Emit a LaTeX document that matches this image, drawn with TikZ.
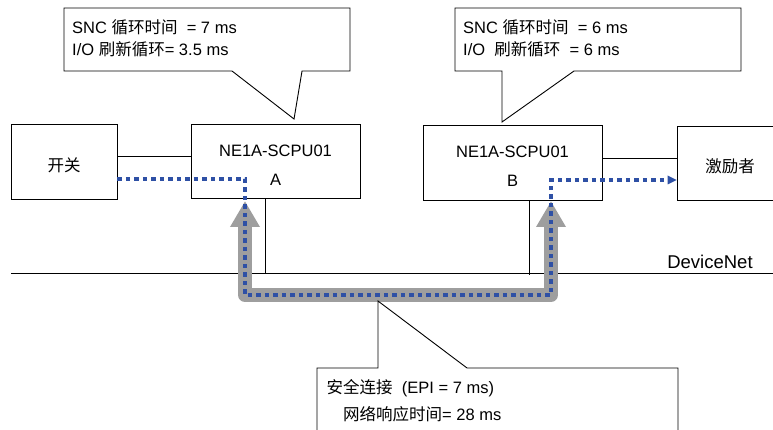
\documentclass[tikz,border=0pt]{standalone}
\usepackage{fontspec}
\setmainfont{Liberation Sans}
\newfontfamily\cjk{Noto Sans CJK SC}
\usetikzlibrary{arrows.meta}
\definecolor{dotblue}{RGB}{46,80,165}
\definecolor{pathgray}{RGB}{158,158,158}
\begin{document}
\begin{tikzpicture}[x=1pt,y=-1pt,
  box/.style={draw, line width=0.9pt, inner sep=0pt, fill=white},
  txt/.style={inner sep=0pt, font=\fontsize{16.5}{20}\selectfont},
  wire/.style={draw, line width=0.9pt},
  callout/.style={draw, line width=0.9pt, fill=white, line join=miter},
  graypath/.style={draw=pathgray, line width=14pt, line join=round,
    {Triangle[width=28pt,length=26pt]}-{Triangle[width=28pt,length=26pt]}},
  bluedots/.style={draw=dotblue, line width=4pt, dash pattern=on 4.2pt off 4.3pt}
]
\useasboundingbox (0,0) rectangle (773,430);

% callout A
\draw[callout] (64,8) -- (350,8) -- (350,71) -- (302,71) -- (294,119) -- (232,71) -- (64,71) -- cycle;
\node[txt, anchor=base west] (a1) at (72,33.5) {SNC {\cjk 循环时间}\ \ = 7 ms};
\node[txt, anchor=base west] (a2) at (72,56) {I/O {\cjk 刷新循环}= 3.5 ms};

% callout B
\draw[callout] (455,8) -- (741,8) -- (741,71) -- (574,71) -- (502,122) -- (502,71) -- (455,71) -- cycle;
\node[txt, anchor=base west] (b1) at (463,33.5) {SNC {\cjk 循环时间}\ \ = 6 ms};
\node[txt, anchor=base west] (b2) at (463,56) {I/O\ \ {\cjk 刷新循环}\ \ = 6 ms};

% boxes
\node[box, minimum width=106pt, minimum height=75pt] (sw) at (64,161.5) {};
\node[txt, anchor=base] (swt) at (64,172) {\cjk 开关};

\node[box, minimum width=169pt, minimum height=74pt] (A) at (275.5,161) {};
\node[txt, anchor=base] (At1) at (275.5,157) {NE1A-SCPU01};
\node[txt, anchor=base] (At2) at (275.5,186) {A};

\node[box, minimum width=179pt, minimum height=75pt] (B) at (512.5,162.5) {};
\node[txt, anchor=base] (Bt1) at (512.5,158) {NE1A-SCPU01};
\node[txt, anchor=base] (Bt2) at (512.5,187) {B};

\node[box, minimum width=120pt, minimum height=74pt] (act) at (737,163) {};
\node[txt, anchor=base] (actt) at (730,173) {\cjk 激励者};

% wires
\draw[wire] (sw.east |- 0,156) -- (A.west |- 0,156);
\draw[wire] (B.east |- 0,158) -- (act.west |- 0,158);

% DeviceNet bus
\coordinate (busL) at (11,273);
\coordinate (busR) at (773,273);
\draw[wire] (busL) -- (busR);
\node[txt, font=\fontsize{18.5}{20}\selectfont, anchor=base] (dn) at (710,269) {DeviceNet};
\draw[wire] (A.south -| 265,0) -- (265,273);
\draw[wire] (B.south -| 529,0) -- (529,275);

% gray safety connection path
\coordinate (gA) at (245,201);
\coordinate (gL) at (245,295);
\coordinate (gR) at (551,295);
\coordinate (gB) at (551,201);
\draw[graypath] (gA) -- (gL) -- (gR) -- (gB);

% blue dotted data path
\coordinate (pA) at (245,179);
\coordinate (pB) at (551,180);
\draw[bluedots] (sw.east |- pA) -- (pA) -- (gL) -- (gR) -- (pB) -- (act.west |- pB);
\fill[dotblue] (act.west |- pB) -- ++(-9,-4.5) -- ++(0,9) -- cycle;

% bottom callout
\draw[callout] (317,440) -- (317,368) -- (378,368) -- (378,301) -- (467,368) -- (678,368) -- (678,440);
\node[txt, anchor=base west] (c1) at (326.5,393) {{\cjk 安全连接}\ \ (EPI = 7 ms)};
\node[txt, anchor=base west] (c2) at (343,420) {{\cjk 网络响应时间}= 28 ms};
\end{tikzpicture}
\end{document}
